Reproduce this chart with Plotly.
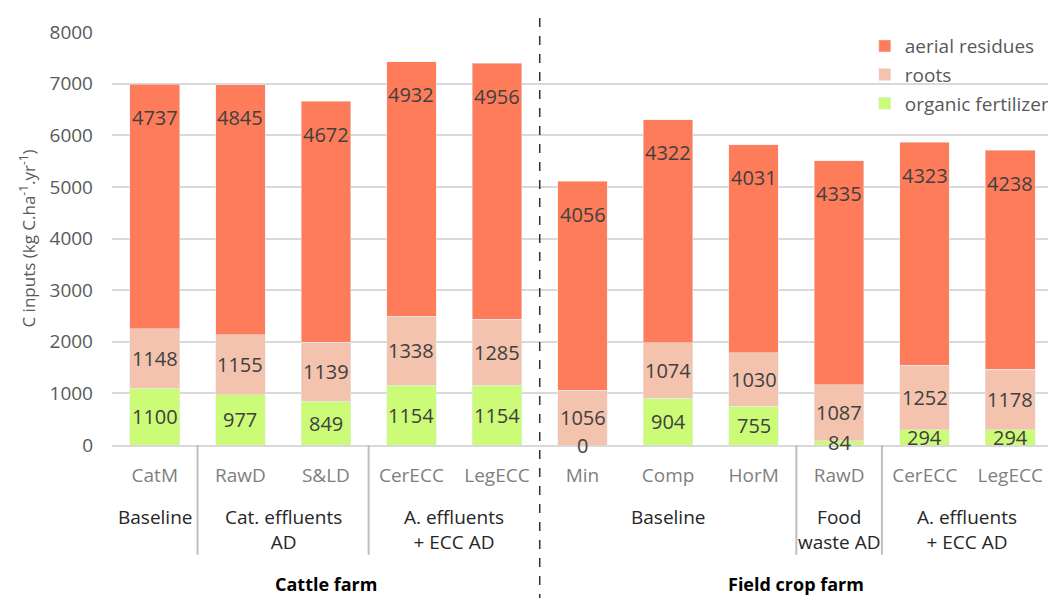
import plotly.graph_objects as go

categories = ["CatM", "RawD", "S&LD", "CerECC", "LegECC",
              "Min", "Comp", "HorM", "RawD", "CerECC", "LegECC"]
aerial_residues = [4737, 4845, 4672, 4932, 4956, 4056, 4322, 4031, 4335, 4323, 4238]
roots = [1148, 1155, 1139, 1338, 1285, 1056, 1074, 1030, 1087, 1252, 1178]
organic_fertilizer = [1100, 977, 849, 1154, 1154, 0, 904, 755, 84, 294, 294]

# scenario groups: (label, first index, last index)
scenario_groups = [("Baseline", 0, 0), ("Cat. effluents<br>AD", 1, 2),
                   ("A. effluents<br>+ ECC AD", 3, 4), ("Baseline", 5, 7),
                   ("Food<br>waste AD", 8, 8), ("A. effluents<br>+ ECC AD", 9, 10)]
farm_groups = [("Cattle farm", 0, 4), ("Field crop farm", 5, 10)]

FONT = "Open Sans"
C_AER = "#FF7C5A"
C_ROOT = "#F3C3AE"
C_FERT = "#CCFB77"
LABEL_C = "#404040"

x = list(range(len(categories)))
fig = go.Figure()
fig.add_trace(go.Bar(x=x, y=organic_fertilizer, name="organic fertilizer",
                     marker_color=C_FERT, width=0.58, legendgroup="c", legendrank=3))
fig.add_trace(go.Bar(x=x, y=roots, name="roots", marker_color=C_ROOT, width=0.58,
                     legendgroup="b", legendrank=2))
fig.add_trace(go.Bar(x=x, y=aerial_residues, name="aerial residues",
                     marker_color=C_AER, width=0.58, legendgroup="a", legendrank=1))

ann = []
for i in x:
    f, r, a = organic_fertilizer[i], roots[i], aerial_residues[i]
    ann.append(dict(x=i, y=f / 2, text=str(f), showarrow=False, yanchor="middle",
                    font=dict(size=20, color=LABEL_C, family=FONT)))
    ann.append(dict(x=i, y=f + r / 2, text=str(r), showarrow=False, yanchor="middle",
                    font=dict(size=20, color=LABEL_C, family=FONT)))
    ann.append(dict(x=i, y=f + r + a, text=str(a), showarrow=False, yanchor="middle",
                    yshift=-33, font=dict(size=20, color=LABEL_C, family=FONT)))

for label, i0, i1 in scenario_groups:
    ann.append(dict(x=(i0 + i1) / 2, xref="x", y=-0.138, yref="paper", text=label,
                    showarrow=False, yanchor="top",
                    font=dict(size=19, color="#262626", family=FONT)))
for label, i0, i1 in farm_groups:
    ann.append(dict(x=(i0 + i1) / 2, xref="x", y=-0.336, yref="paper",
                    text="<b>" + label + "</b>", showarrow=False, yanchor="middle",
                    font=dict(size=18, color="#000000", family=FONT)))

shapes = []
bounds = []
for farm, f0, f1 in farm_groups:
    for label, i0, i1 in scenario_groups:
        if f0 <= i0 and i1 <= f1 and i1 < f1:
            bounds.append(i1 + 0.5)
for b in bounds:
    shapes.append(dict(type="line", xref="x", yref="paper", x0=b, x1=b,
                       y0=0, y1=-0.266, line=dict(color="#BFBFBF", width=2)))
fb = farm_groups[0][2] + 0.5
shapes.append(dict(type="line", xref="x", yref="paper", x0=fb, x1=fb,
                   y0=1.034, y1=-0.4, line=dict(color="#303030", width=1.5, dash="dash")))

# page body has an 8px margin, so the figure is sized/offset to compensate
fig.update_layout(
    barmode="stack",
    width=1048, height=590,
    margin=dict(l=104, r=1, t=24, b=153),
    paper_bgcolor="white", plot_bgcolor="white",
    font=dict(family=FONT, size=18, color="#595959"),
    showlegend=True,
    legend=dict(x=0.8, y=1.012, xanchor="left", yanchor="top",
                traceorder="grouped", tracegroupgap=1,
                bgcolor="rgba(0,0,0,0)", font=dict(size=19, color="#595959", family=FONT),
                itemwidth=30),
    annotations=ann,
    shapes=shapes,
    xaxis=dict(range=[-0.5, len(categories) - 0.5], tickvals=x, ticktext=categories,
               showgrid=False, zeroline=False, showline=True, linecolor="#D9D9D9",
               linewidth=1.5, ticks="", ticklabelstandoff=12, automargin=False,
               tickfont=dict(size=19, color="#7F7F7F", family=FONT)),
    yaxis=dict(range=[0, 8000], dtick=1000, showgrid=True, gridcolor="#D9D9D9",
               gridwidth=1.5, zeroline=False, showline=False, ticks="",
               ticklabelstandoff=18, automargin=False,
               tickfont=dict(size=19, color="#595959", family=FONT),
               title=dict(text="C inputs (kg C.ha<sup>-1</sup>.yr<sup>-1</sup>)",
                          font=dict(size=17, color="#595959", family=FONT),
                          standoff=9)),
)

fig.write_html("out.html")
